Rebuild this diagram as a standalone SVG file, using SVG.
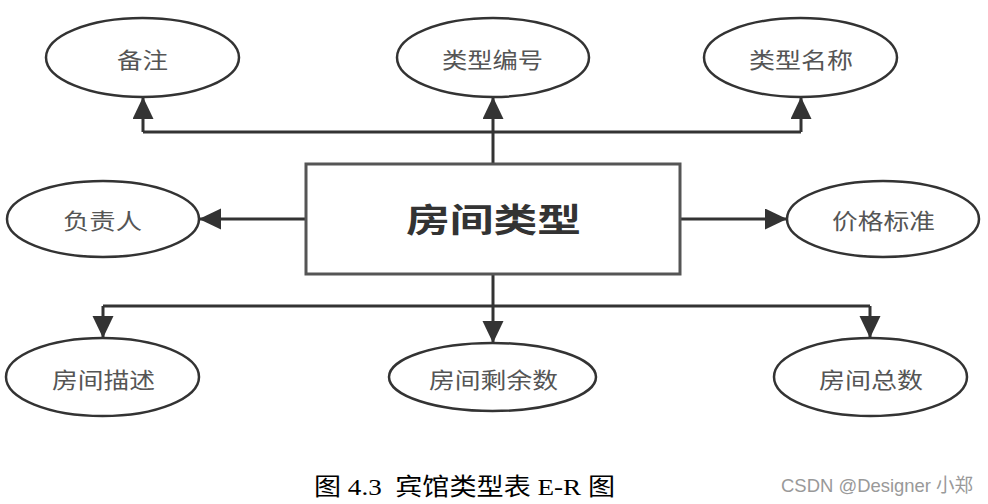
<svg xmlns="http://www.w3.org/2000/svg" width="988" height="504" viewBox="0 0 988 504">
  <style>
    .attr ellipse { fill: #fff; stroke: #333; stroke-width: 2.5; }
    .attr text { font-family: "Noto Sans CJK SC", "Noto Sans", sans-serif; font-size: 22px; fill: #555; text-anchor: middle; dominant-baseline: central; }
    .entity rect { fill: #fff; stroke: #555; stroke-width: 3; }
    .entity text { font-family: "Noto Sans CJK SC", "Noto Sans", sans-serif; font-size: 33px; font-weight: bold; fill: #333; text-anchor: middle; dominant-baseline: central; }
    .conn path { fill: none; stroke: #333; stroke-width: 3; }
    .caption { font-family: "Liberation Serif", "Noto Sans CJK SC", serif; font-size: 24px; fill: #000; white-space: pre; }
    .wm { font-family: "Liberation Sans", "Noto Sans CJK SC", sans-serif; font-size: 19px; fill: #999; }
  </style>
  <defs>
    <marker id="arr" markerUnits="userSpaceOnUse" markerWidth="24" markerHeight="22" refX="22" refY="10.5" orient="auto" viewBox="0 0 24 22">
      <path d="M0,0 L22,10.5 L0,21 Z" fill="#333"/>
    </marker>
  </defs>
  <rect width="988" height="504" fill="#fff"/>

  <g id="connectors" class="conn">
    <path d="M493,164 V97" marker-end="url(#arr)"/>
    <path d="M143,132 H801"/>
    <path d="M143,132 V97" marker-end="url(#arr)"/>
    <path d="M801,132 V97" marker-end="url(#arr)"/>
    <path d="M306,219 H199" marker-end="url(#arr)"/>
    <path d="M680,219 H787" marker-end="url(#arr)"/>
    <path d="M493,274 V343" marker-end="url(#arr)"/>
    <path d="M103,306 H870"/>
    <path d="M103,306 V338" marker-end="url(#arr)"/>
    <path d="M870,306 V338" marker-end="url(#arr)"/>
  </g>

  <g id="entity-room-type" class="entity">
    <rect x="306" y="164" width="374" height="110"/>
    <text x="493.5" y="218" textLength="175" lengthAdjust="spacingAndGlyphs">房间类型</text>
  </g>

  <g id="attr-remark" class="attr">
    <ellipse cx="142.5" cy="57.5" rx="96.5" ry="39.5"/>
    <text x="142.5" y="58" textLength="51" lengthAdjust="spacingAndGlyphs">备注</text>
  </g>
  <g id="attr-type-id" class="attr">
    <ellipse cx="493" cy="57.5" rx="96" ry="39.5"/>
    <text x="492.5" y="58" textLength="101" lengthAdjust="spacingAndGlyphs">类型编号</text>
  </g>
  <g id="attr-type-name" class="attr">
    <ellipse cx="800.5" cy="57.5" rx="96.5" ry="39.5"/>
    <text x="801" y="58" textLength="104" lengthAdjust="spacingAndGlyphs">类型名称</text>
  </g>
  <g id="attr-manager" class="attr">
    <ellipse cx="103" cy="219" rx="96" ry="38"/>
    <text x="102.5" y="219" textLength="79" lengthAdjust="spacingAndGlyphs">负责人</text>
  </g>
  <g id="attr-price" class="attr">
    <ellipse cx="883" cy="219" rx="96" ry="38"/>
    <text x="883.5" y="219" textLength="103" lengthAdjust="spacingAndGlyphs">价格标准</text>
  </g>
  <g id="attr-desc" class="attr">
    <ellipse cx="102.5" cy="377" rx="96.5" ry="39"/>
    <text x="103.5" y="378" textLength="103" lengthAdjust="spacingAndGlyphs">房间描述</text>
  </g>
  <g id="attr-remaining" class="attr">
    <ellipse cx="492.5" cy="377" rx="103.5" ry="34"/>
    <text x="493.5" y="378" textLength="129" lengthAdjust="spacingAndGlyphs">房间剩余数</text>
  </g>
  <g id="attr-total" class="attr">
    <ellipse cx="870.5" cy="377" rx="96.5" ry="39"/>
    <text x="871" y="378" textLength="104" lengthAdjust="spacingAndGlyphs">房间总数</text>
  </g>

  <text class="caption" x="314" y="495" textLength="301" lengthAdjust="spacingAndGlyphs">图 4.3  宾馆类型表 E-R 图</text>
  <text class="wm" x="781" y="492" textLength="192" lengthAdjust="spacingAndGlyphs">CSDN @Designer 小郑</text>
</svg>
